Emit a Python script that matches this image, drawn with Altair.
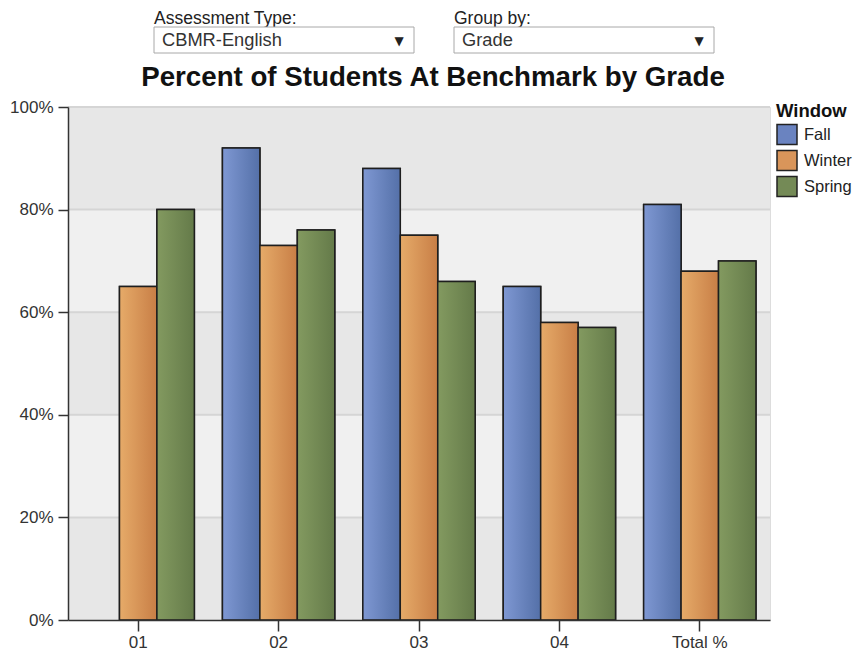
import altair as alt
import pandas as pd

# ---- data ----
grades = ["01", "02", "03", "04", "Total %"]
windows = ["Fall", "Winter", "Spring"]
fall = [None, 92, 88, 65, 81]
winter = [65, 73, 75, 58, 68]
spring = [80, 76, 66, 57, 70]

y_ticks = [0, 20, 40, 60, 80, 100]
band_lo = [0, 20, 40, 60, 80]
band_hi = [20, 40, 60, 80, 100]
band_shade = ["dark", "light", "dark", "light", "dark"]
grid_vals = [20, 40, 60, 80, 100]

title_text = "Percent of Students At Benchmark by Grade"
dd_labels = ["Assessment Type:", "Group by:"]
dd_values = ["CBMR-English", "Grade"]

# ---- styles ----
FONT = "Liberation Sans"
solid = ["#6a83c0", "#d9955a", "#748a56"]
grad_cols = {
    "Fall": ("#7f98d3", "#5470a8"),
    "Winter": ("#e6ab69", "#c87e46"),
    "Spring": ("#839a60", "#647a49"),
}
W, H = 702, 513

rows = []
for g, f, w, s in zip(grades, fall, winter, spring):
    for win, v in zip(windows, (f, w, s)):
        if v is not None:
            rows.append({"Grade": g, "Window": win, "Percent": v})
df = pd.DataFrame(rows)

bands_df = pd.DataFrame({"lo": band_lo, "hi": band_hi, "shade": band_shade})
grid_df = pd.DataFrame({"v": grid_vals})
one = pd.DataFrame({"a": [0]})

yscale = alt.Scale(domain=[0, 100], nice=False)
xscale = alt.Scale(domain=grades, paddingInner=0.2, paddingOuter=0.1)
xoff_scale = alt.Scale(domain=windows)

y_axis = alt.Axis(
    values=y_ticks, labelExpr="datum.value + '%'", title=None, grid=False,
    domainColor="#333333", domainWidth=1.5, tickColor="#333333", tickWidth=1.5,
    tickSize=10, labelFontSize=17, labelColor="#333333", labelFont=FONT,
    labelPadding=5, zindex=1,
)
x_axis = alt.Axis(
    title=None, labelAngle=0, domainColor="#333333", domainWidth=1.5,
    tickColor="#333333", tickWidth=1.5, tickSize=11, labelPadding=3,
    labelFontSize=17, labelColor="#333333", labelFont=FONT, zindex=1,
)

bands = alt.Chart(bands_df).mark_rect().encode(
    y=alt.Y("lo:Q", scale=yscale, axis=y_axis),
    y2="hi:Q",
    fill=alt.Fill("shade:N", scale=alt.Scale(domain=["dark", "light"],
                                             range=["#e7e7e7", "#f0f0f0"]),
                  legend=None),
)

grid = alt.Chart(grid_df).mark_rule(color="#d5d5d5", strokeWidth=2).encode(
    y=alt.Y("v:Q", scale=yscale)
)

legend = alt.Legend(
    title="Window", orient="none", legendX=708, legendY=-5,
    titleFont=FONT, titleFontSize=18.5, titleFontWeight="bold", titleColor="#111111",
    titlePadding=3, labelFont=FONT, labelFontSize=16.5, labelColor="#222222",
    symbolType="square", symbolSize=400, symbolStrokeColor="#222222",
    symbolStrokeWidth=1.5, rowPadding=0, labelOffset=6, padding=0,
)

base_bars = alt.Chart(df).mark_bar(stroke="#1e1e1e", strokeWidth=1.5).encode(
    x=alt.X("Grade:N", scale=xscale, axis=x_axis, sort=grades),
    xOffset=alt.XOffset("Window:N", scale=xoff_scale, sort=windows),
    y=alt.Y("Percent:Q", scale=yscale),
    color=alt.Color("Window:N", scale=alt.Scale(domain=windows, range=solid),
                    legend=legend, sort=windows),
)

grad_layers = []
for win in windows:
    c0, c1 = grad_cols[win]
    gradient = {
        "gradient": "linear", "x1": 0, "y1": 0, "x2": 1, "y2": 0,
        "stops": [{"offset": 0, "color": c0}, {"offset": 1, "color": c1}],
    }
    grad_layers.append(
        alt.Chart(df).transform_filter(alt.datum.Window == win)
        .mark_bar(stroke="#1e1e1e", strokeWidth=1.5, fill=gradient)
        .encode(
            x=alt.X("Grade:N", scale=xscale, sort=grades),
            xOffset=alt.XOffset("Window:N", scale=xoff_scale, sort=windows),
            y=alt.Y("Percent:Q", scale=yscale),
        )
    )

title = alt.Chart(one).mark_text(
    text=title_text, font=FONT, fontSize=27.7, fontWeight="bold", color="#111111",
    align="center", baseline="middle",
).encode(x=alt.value(365), y=alt.value(-29))

deco = []
for i, (lab, val) in enumerate(zip(dd_labels, dd_values)):
    x0 = 86 + 300 * i
    deco.append(alt.Chart(one).mark_text(
        text=lab, font=FONT, fontSize=17.5, color="#222222", align="left", baseline="middle"
    ).encode(x=alt.value(x0), y=alt.value(-88)))
    deco.append(alt.Chart(one).mark_rect(
        fill="white", stroke="#a8a8a8", strokeWidth=1
    ).encode(x=alt.value(x0), x2=alt.value(x0 + 260), y=alt.value(-80), y2=alt.value(-54)))
    deco.append(alt.Chart(one).mark_text(
        text=val, font=FONT, fontSize=18.3, color="#333333", align="left", baseline="middle"
    ).encode(x=alt.value(x0 + 8), y=alt.value(-66)))
    deco.append(alt.Chart(one).mark_text(
        text="▼", font="DejaVu Sans", fontSize=12, color="#222222", align="center", baseline="middle"
    ).encode(x=alt.value(x0 + 245), y=alt.value(-66)))

chart = alt.layer(bands, grid, base_bars, *grad_layers, title, *deco).properties(
    width=W, height=H,
    autosize=alt.AutoSizeParams(type="none"),
    padding={"left": 60, "top": 99, "right": 85, "bottom": 32},
).configure_view(stroke=None).configure(background="white")

chart.save("out.html", embed_options={"renderer": "svg", "actions": False})
